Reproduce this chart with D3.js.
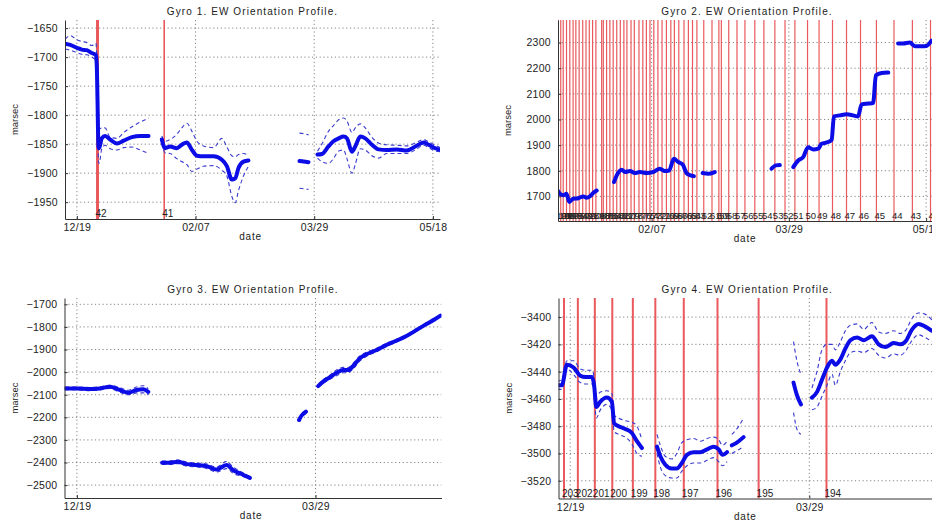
<!DOCTYPE html>
<html>
<head>
<meta charset="utf-8">
<script src="https://cdn.jsdelivr.net/npm/d3@7"></script>
<style>
  body { margin: 0; background: #fff; }
  svg { display: block; font-family: "Liberation Sans", Arial, Helvetica, sans-serif; }
</style>
</head>
<body>
<svg id="chart" width="932" height="520"></svg>
<script>
// Time axis in days counted from 12/19.
const dateTickDays = [0, 50, 100, 150];
const dateTickLabels = ["12/19", "02/07", "03/29", "05/18"];

// ---- Gyro 1 (null marks a gap in the record) ----
const g1Days = [-4.9,-2.8,0,2.1,4.2,6.3,8.0,8.4,8.7,9.1,9.4,10.5,11.9,14.0,16.9,19.7,23.2,26.7,30.2, null,
  35.8,37.2,39.3,42.1,44.2,46.3,48.5,50.6,53.4,57.6,61.1,63.2,65.3,66.7,68.1,70.2,72.3, null,
  93.8,95.5,97.6, null,
  101.4,103.2,106.0,108.1,110.3,112.4,113.8,115.9,117.3,119.4,121.5,124.3,127.1,130.6,134.8,139.0,142.6,146.1,148.2,151.0,153.1];
const g1Values = [-1677,-1679,-1684,-1687,-1688,-1693,-1696,-1716,-1774,-1854,-1857,-1840,-1836,-1842,-1849,-1844,-1838,-1836,-1836, null,
  -1842,-1857,-1854,-1857,-1851,-1847,-1860,-1870,-1871,-1871,-1877,-1888,-1911,-1909,-1891,-1880,-1878, null,
  -1879,-1880,-1881, null,
  -1868,-1867,-1854,-1845,-1840,-1837,-1840,-1863,-1854,-1837,-1840,-1851,-1859,-1860,-1859,-1861,-1854,-1847,-1851,-1857,-1860];
const g1Upper = [-1669,-1663,-1670,-1673,-1675,-1680,-1676,-1700,-1760,-1830,-1825,-1822,-1822,-1838,-1840,-1830,-1820,-1812,-1805, null,
  -1836,-1845,-1842,-1833,-1822,-1814,-1828,-1845,-1853,-1856,-1840,-1855,-1870,-1872,-1868,-1866,-1870, null,
  -1831,-1832,-1834, null,
  -1862,-1850,-1828,-1818,-1808,-1805,-1810,-1830,-1822,-1815,-1822,-1838,-1848,-1851,-1852,-1853,-1848,-1842,-1846,-1852,-1856];
const g1Lower = [-1686,-1688,-1692,-1695,-1696,-1700,-1706,-1730,-1790,-1880,-1883,-1858,-1852,-1858,-1860,-1856,-1855,-1860,-1866, null,
  -1848,-1865,-1866,-1875,-1880,-1885,-1897,-1893,-1888,-1887,-1895,-1905,-1940,-1951,-1930,-1905,-1888, null,
  -1926,-1927,-1928, null,
  -1874,-1880,-1883,-1875,-1862,-1860,-1875,-1900,-1885,-1858,-1860,-1870,-1874,-1866,-1866,-1866,-1860,-1852,-1856,-1862,-1863];
const g1YTicks = [-1950,-1900,-1850,-1800,-1750,-1700,-1650];
const g1EventDays = [8.7, 36.8];
const g1EventLabels = ["42", "41"];

// ---- Gyro 2 ----
const g2Days = [15.6,16.6,17.8,19.0,20.0,21.4,23.3,25.1,26.3,27.5,28.7,30.0, null,
  36.3,37.3,39.1,40.3,42.1,43.9,45.7,48.2,50.6,53.0,54.8,56.4,58.1,59.7,61.3,62.7,64.2,65.4, null,
  68.6,70.6,73.0, null,
  93.7,95.3,96.7, null,
  101.6,103.4,105.2,107.0,108.9,110.7,111.9,114.3,115.6,116.4,118.6,121.0,123.4,125.2,126.5,128.9,130.7,131.7,133.8,136.2, null,
  139.8,141.6,144.1,145.9,148.3,150.1,151.9];
const g2Values = [1726,1710,1704,1710,1678,1691,1693,1700,1695,1700,1713,1723, null,
  1756,1782,1804,1795,1799,1791,1795,1791,1795,1808,1799,1801,1847,1834,1825,1791,1782,1779, null,
  1791,1788,1795, null,
  1808,1821,1822, null,
  1814,1840,1853,1892,1883,1886,1905,1912,1921,2012,2016,2020,2016,2012,2059,2062,2064,2172,2181,2183, null,
  2296,2296,2300,2286,2286,2287,2307];
const g2YTicks = [1700,1800,1900,2000,2100,2200,2300];
const g2EventDays = [16.0,16.9,17.8,19.0,20.2,21.4,22.4,23.6,24.9,26.1,27.3,28.5,29.7,31.8,32.4,33.6,34.8,36.0,37.3,38.6,
  39.9,41.0,42.5,43.7,45.4,46.8,48.1,49.4,50.8,52.3,53.8,55.4,57.0,58.3,59.9,61.8,63.4,64.9,66.5,69.0,
  72.0,74.5,75.4,78.1,81.1,84.0,87.6,90.9,94.9,98.6,102.2,106.8,111.0,115.9,121.0,126.1,131.9,138.3,145.0,151.6];
const g2EventLabels = ["101","100","99","98","97","96","95","94","93","92","91","90","89","88","87","86","85","84","83","82",
  "81","80","79","78","77","76","75","74","73","72","71","70","69","68","67","66","65","64","63","62",
  "61","60","59","58","57","56","55","54","53","52","51","50","49","48","47","46","45","44","43","42"];

// ---- Gyro 3 ----
const g3Days = [-5.0,-0.1,5.4,9.6,13.8,17.3,21.5,25.0,27.8,29.9, null,
  35.7,39.0,42.4,46.0,50.1,54.3,58.5,62.7,65.5,69.0,72.5, null,
  93.1,94.1,96.0, null,
  101.1,103.2,106.0,108.8,111.6,113.7,115.8,118.6,121.4,125.6,129.7,133.9,138.1,142.3,146.5,150.0,152.4];
const g3Values = [-2072,-2072,-2075,-2072,-2065,-2076,-2091,-2079,-2076,-2087, null,
  -2401,-2401,-2397,-2407,-2411,-2416,-2431,-2411,-2434,-2451,-2468, null,
  -2212,-2193,-2175, null,
  -2062,-2042,-2023,-2003,-1991,-1991,-1973,-1939,-1921,-1902,-1880,-1861,-1840,-1814,-1787,-1766,-1750];
const g3Upper = [-2066,-2066,-2068,-2065,-2058,-2066,-2080,-2066,-2060,-2074, null,
  -2394,-2393,-2389,-2398,-2402,-2406,-2420,-2395,-2420,-2442,-2462, null,
  -2205,-2186,-2168, null,
  -2056,-2034,-2014,-1990,-1979,-1980,-1960,-1928,-1912,-1894,-1873,-1855,-1835,-1809,-1783,-1762,-1747];
const g3Lower = [-2078,-2078,-2082,-2079,-2072,-2086,-2100,-2092,-2092,-2100, null,
  -2408,-2409,-2405,-2416,-2420,-2426,-2442,-2427,-2448,-2460,-2474, null,
  -2219,-2200,-2182, null,
  -2068,-2050,-2032,-2016,-2003,-2002,-1986,-1950,-1930,-1910,-1887,-1867,-1845,-1819,-1791,-1770,-1753];
const g3YTicks = [-2500,-2400,-2300,-2200,-2100,-2000,-1900,-1800,-1700];

// ---- Gyro 4 ----
const g4Days = [-5.3,-3.5,-1.4,1.4,4.2,6.3,9.1,10.0,10.9,12.6,15.3,17.4,18.4,20.2,23.0,25.8,27.9,30.0, null,
  36.3,37.7,39.7,42.5,44.6,46.7,48.8,51.6,54.4,57.2,60.0,62.1,63.7,65.6, null,
  67.6,69.7,72.5, null,
  93.4,94.8,96.5, null,
  101.1,103.2,105.3,107.4,109.5,110.9,113.0,115.1,117.2,120.0,122.8,126.2,129.0,131.8,135.3,138.1,140.2,143.0,145.7,148.5,151.3];
const g4Values = [-3450,-3450,-3435,-3437,-3443,-3444,-3444,-3450,-3466,-3462,-3459,-3462,-3478,-3480,-3482,-3485,-3491,-3496, null,
  -3495,-3502,-3508,-3511,-3511,-3507,-3501,-3499,-3499,-3497,-3495,-3497,-3501,-3499, null,
  -3494,-3492,-3488, null,
  -3448,-3457,-3464, null,
  -3459,-3455,-3446,-3437,-3432,-3435,-3431,-3423,-3417,-3415,-3417,-3414,-3420,-3422,-3419,-3420,-3418,-3409,-3405,-3407,-3410];
const g4Upper = [-3447,-3446,-3432,-3432,-3438,-3439,-3439,-3444,-3458,-3455,-3454,-3456,-3472,-3474,-3476,-3477,-3480,-3490, null,
  -3486,-3494,-3502,-3504,-3500,-3492,-3490,-3489,-3491,-3489,-3488,-3490,-3494,-3491, null,
  -3486,-3482,-3474, null,
  -3418,-3432,-3442, null,
  -3452,-3440,-3424,-3420,-3420,-3424,-3418,-3410,-3406,-3405,-3409,-3404,-3411,-3412,-3410,-3412,-3410,-3401,-3397,-3398,-3402];
const g4Lower = [-3453,-3453,-3438,-3442,-3448,-3449,-3449,-3456,-3474,-3468,-3464,-3468,-3484,-3486,-3488,-3493,-3500,-3502, null,
  -3500,-3510,-3516,-3518,-3518,-3513,-3509,-3507,-3507,-3505,-3503,-3506,-3509,-3506, null,
  -3500,-3498,-3495, null,
  -3470,-3482,-3486, null,
  -3468,-3466,-3458,-3450,-3442,-3450,-3440,-3432,-3426,-3425,-3426,-3423,-3428,-3430,-3427,-3428,-3425,-3417,-3413,-3415,-3418];
const g4YTicks = [-3520,-3500,-3480,-3460,-3440,-3420,-3400];
const g4EventDays = [-2.6, 3.2, 10.3, 17.6, 26.2, 35.6, 47.5, 61.6, 78.8, 107.2];
const g4EventLabels = ["203","202","201","200","199","198","197","196","195","194"];

const svg = d3.select("#chart");
const fmt = d3.format("d");

function toPoints(days, vals) {
  return days.map((d, i) => (d === null || vals[i] === null) ? null : [d, vals[i]]);
}

function drawPanel(p, idx) {
  const g = svg.append("g");
  const x = d3.scaleLinear().domain(p.xDomain).range([p.left, p.right]);
  const y = d3.scaleLinear().domain(p.yDomain).range([p.bottom, p.top]);
  const clipId = "clip" + idx;
  svg.append("clipPath").attr("id", clipId).append("rect")
    .attr("x", p.left).attr("y", p.top)
    .attr("width", p.right - p.left).attr("height", p.bottom - p.top);
  const plot = g.append("g").attr("clip-path", `url(#${clipId})`);

  // dotted grid
  plot.selectAll("line.hgrid").data(p.yTicks).join("line").attr("class", "hgrid")
    .attr("x1", p.left).attr("x2", p.right)
    .attr("y1", d => y(d)).attr("y2", d => y(d))
    .attr("stroke", "#777").attr("stroke-width", 0.9).attr("stroke-dasharray", "1.2,2.6");
  plot.selectAll("line.vgrid").data(p.gridDays).join("line").attr("class", "vgrid")
    .attr("x1", d => x(d)).attr("x2", d => x(d))
    .attr("y1", p.top).attr("y2", p.bottom)
    .attr("stroke", "#777").attr("stroke-width", 0.9).attr("stroke-dasharray", "1.2,2.6");

  // event markers
  if (p.eventDays) {
    plot.selectAll("line.event").data(p.eventDays).join("line").attr("class", "event")
      .attr("x1", d => x(d)).attr("x2", d => x(d))
      .attr("y1", p.top).attr("y2", p.bottom)
      .attr("stroke", "#e8484c").attr("stroke-width", (d, i) => p.eventWidth ? p.eventWidth(i) : 1.6)
      .attr("opacity", 0.9);
  }

  const line = d3.line()
    .defined(d => d !== null)
    .x(d => x(d[0])).y(d => y(d[1]))
    .curve(d3.curveMonotoneX);

  // uncertainty bounds
  if (p.upper) {
    [p.upper, p.lower].forEach(b => {
      plot.append("path").datum(toPoints(p.days, b))
        .attr("d", line).attr("fill", "none")
        .attr("stroke", "#3a3ad0").attr("stroke-width", 1.1)
        .attr("stroke-dasharray", "4,3");
    });
  }

  // main profile
  plot.append("path").datum(toPoints(p.days, p.values))
    .attr("d", line).attr("fill", "none")
    .attr("stroke", "#0c0ce6").attr("stroke-width", 4)
    .attr("stroke-linejoin", "round").attr("stroke-linecap", "round");

  // event numbers
  if (p.eventDays) {
    plot.selectAll("text.evlab").data(p.eventDays).join("text").attr("class", "evlab")
      .attr("x", d => x(d) - 2).attr("y", p.bottom - 2)
      .attr("font-size", p.eventFont || 10).attr("fill", "#222")
      .text((d, i) => p.eventLabels[i]);
  }

  // axes
  const yAxis = d3.axisLeft(y).tickValues(p.yTicks).tickFormat(fmt)
    .tickSizeInner(-3).tickSizeOuter(0).tickPadding(7);
  const ya = g.append("g").attr("transform", `translate(${p.left},0)`).call(yAxis);
  const xAxis = d3.axisBottom(x).tickValues(p.tickDays).tickSizeInner(-3).tickSizeOuter(0).tickPadding(5)
    .tickFormat(d => dateTickLabels[dateTickDays.indexOf(d)]);
  const xa = g.append("g").attr("transform", `translate(0,${p.bottom})`).call(xAxis);
  [ya, xa].forEach(a => {
    a.select(".domain").attr("stroke", "#333").attr("stroke-width", 1);
    a.selectAll(".tick line").attr("stroke", "#333");
    a.selectAll("text").attr("font-size", 10.5).attr("fill", "#222")
      .attr("letter-spacing", 0.3)
      .attr("font-family", '"Liberation Sans", Arial, sans-serif');
  });

  const cx = (p.left + p.right) / 2;
  g.append("text").attr("x", cx).attr("y", p.top - 5).attr("text-anchor", "middle")
    .attr("font-size", 10).attr("letter-spacing", 1.1).attr("fill", "#222").text(p.title);
  g.append("text").attr("x", cx - 2).attr("y", p.bottom + 21).attr("text-anchor", "middle")
    .attr("font-size", 10).attr("letter-spacing", 0.8).attr("fill", "#222").text("date");
  g.append("text")
    .attr("transform", `translate(${p.left - 47},${(p.top + p.bottom) / 2}) rotate(-90)`)
    .attr("text-anchor", "middle").attr("font-size", 9.5).attr("fill", "#222").text("marsec");
}

const panels = [
  { title: "Gyro 1. EW Orientation Profile.", left: 65, right: 440, top: 20, bottom: 219,
    xDomain: [-5, 153], yDomain: [-1979, -1636], yTicks: g1YTicks,
    tickDays: [0, 50, 100, 150], gridDays: [0, 50, 100, 150],
    days: g1Days, values: g1Values, upper: g1Upper, lower: g1Lower,
    eventDays: g1EventDays, eventLabels: g1EventLabels, eventWidth: i => i === 0 ? 3 : 1.6 },
  { title: "Gyro 2. EW Orientation Profile.", left: 558, right: 936, top: 20, bottom: 221,
    xDomain: [15.9, 153.6], yDomain: [1604, 2388], yTicks: g2YTicks,
    tickDays: [50, 100, 150], gridDays: [50, 100, 150],
    days: g2Days, values: g2Values, eventFont: 9.5,
    eventDays: g2EventDays, eventLabels: g2EventLabels, eventWidth: () => 1.2 },
  { title: "Gyro 3. EW Orientation Profile.", left: 64.5, right: 441.5, top: 298, bottom: 498,
    xDomain: [-5.2, 152.8], yDomain: [-2557, -1672], yTicks: g3YTicks,
    tickDays: [0, 100], gridDays: [0, 100],
    days: g3Days, values: g3Values, upper: g3Upper, lower: g3Lower },
  { title: "Gyro 4. EW Orientation Profile.", left: 558.5, right: 936, top: 298, bottom: 498.5,
    xDomain: [-4.9, 153], yDomain: [-3533, -3386], yTicks: g4YTicks,
    tickDays: [0, 100], gridDays: [0, 100],
    days: g4Days, values: g4Values, upper: g4Upper, lower: g4Lower,
    eventDays: g4EventDays, eventLabels: g4EventLabels, eventWidth: () => 2 }
];

panels.forEach(drawPanel);
</script>
</body>
</html>
